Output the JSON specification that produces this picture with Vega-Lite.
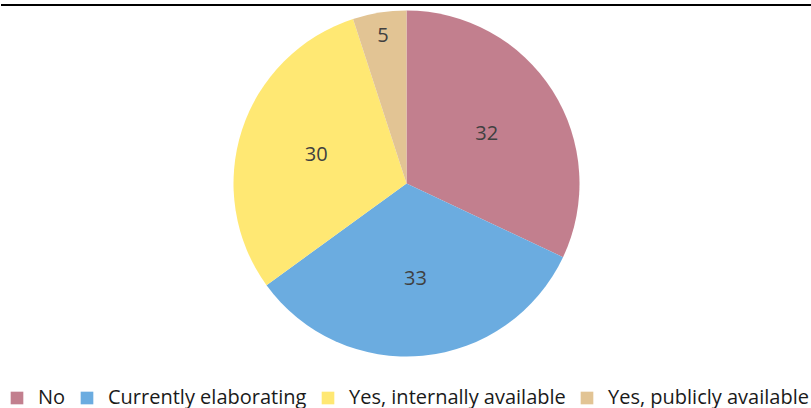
{
  "$schema": "https://vega.github.io/schema/vega-lite/v6.json",
  "width": 811,
  "height": 357,
  "padding": {"left": 0, "right": 0, "top": 4, "bottom": 0},
  "background": "white",
  "config": {"view": {"stroke": null}, "font": "Open Sans"},
  "data": {"values": [
    {"category": "No", "value": 32},
    {"category": "Currently elaborating", "value": 33},
    {"category": "Yes, internally available", "value": 30},
    {"category": "Yes, publicly available", "value": 5}
  ]},
  "encoding": {
    "theta": {"field": "value", "type": "quantitative", "stack": true},
    "order": {"field": "order", "type": "quantitative"}
  },
  "transform": [{"window": [{"op": "row_number", "as": "order"}]}],
  "layer": [
    {
      "mark": {"type": "arc", "outerRadius": 173},
      "encoding": {
        "color": {
          "field": "category", "type": "nominal",
          "sort": ["No", "Currently elaborating", "Yes, internally available", "Yes, publicly available"],
          "scale": {
            "domain": ["No", "Currently elaborating", "Yes, internally available", "Yes, publicly available"],
            "range": ["#C27F8E", "#6BACE0", "#FFE873", "#E2C494"]
          },
          "legend": {
            "title": null, "orient": "bottom", "direction": "horizontal",
            "symbolType": "square", "symbolSize": 160, "symbolStrokeWidth": 0,
            "labelFont": "Open Sans", "labelFontSize": 20, "labelColor": "#1a1a1a",
            "labelLimit": 0, "labelOffset": 11, "columnPadding": 11, "offset": 20, "padding": 6
          }
        }
      }
    },
    {
      "mark": {"type": "text", "radius": 95, "fontSize": 20, "font": "Open Sans", "color": "#404040", "dy": 1},
      "encoding": {"text": {"condition": {"test": "datum.value >= 10", "field": "value", "type": "quantitative"}, "value": ""}}
    },
    {
      "mark": {"type": "text", "radius": 150, "fontSize": 20, "font": "Open Sans", "color": "#404040", "dy": 1},
      "encoding": {"text": {"condition": {"test": "datum.value < 10", "field": "value", "type": "quantitative"}, "value": ""}}
    },
    {
      "mark": {"type": "rule", "color": "#000000", "strokeWidth": 2},
      "encoding": {"y": {"value": 0}}
    }
  ]
}
